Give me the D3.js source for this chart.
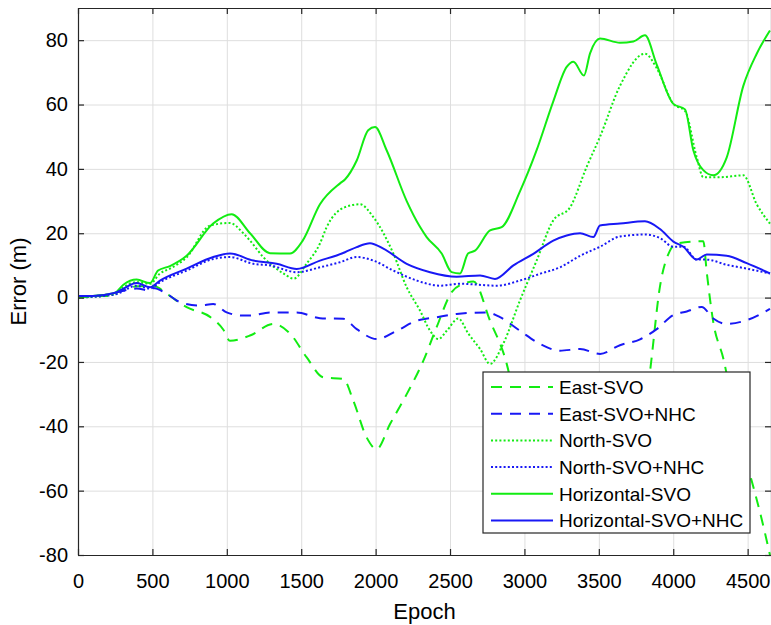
<!DOCTYPE html>
<meta charset="utf-8">
<script src="https://d3js.org/d3.v7.min.js"></script>
<style>
body { margin: 0; background: #fff; }
svg text { font-family: "Liberation Sans", Arial, sans-serif; fill: #000; }
</style>
<div id="chart"></div>
<script>
// data: [epoch, error (m)]
var eastSvo = [[0,0],[100,0.5],[200,0.5],[300,2.5],[400,3.5],[506,3.7],[596,1.2],[730,-3],[887,-6],[977,-10],[1021,-13.4],[1156,-11.8],[1313,-8.2],[1425,-11.2],[1537,-18.6],[1649,-24.8],[1783,-25.3],[1850,-32],[1940,-43.5],[2007,-47.1],[2097,-39.3],[2209,-30],[2321,-19.6],[2410,-9.2],[2511,1.7],[2590,4.3],[2657,5],[2769,-7.2],[2881,-20.6],[2950,-35],[3100,-58],[3300,-70],[3550,-70],[3700,-62],[3780,-45],[3844,-23],[3911,3.5],[3978,14.6],[4023,16.8],[4202,17.5],[4225,8],[4269,-7.6],[4337,-19],[4420,-38],[4516,-55],[4590,-68],[4650,-80]];
var eastNhc = [[0,0],[200,1],[394,2.8],[484,2.2],[506,3],[596,1.2],[685,-1.4],[820,-2.5],[909,-2],[999,-4.6],[1111,-5.6],[1156,-5.6],[1290,-4.6],[1470,-4.6],[1626,-6.4],[1783,-6.6],[1873,-9.8],[2007,-12.9],[2142,-10.3],[2276,-7.2],[2410,-6.1],[2545,-5.1],[2746,-4.6],[2836,-6.1],[2970,-10.3],[3105,-14.4],[3239,-16.5],[3374,-16],[3508,-17.5],[3642,-14.8],[3777,-13],[3889,-9.8],[4001,-5.4],[4091,-4.3],[4191,-2.9],[4269,-6.5],[4359,-8.2],[4494,-7],[4650,-3.5]];
var northSvo = [[0,0],[250,1],[305,3.2],[394,4.8],[484,4.3],[551,7.5],[618,9],[730,12.5],[887,22.4],[1021,23.2],[1111,20],[1156,17.7],[1245,12.6],[1380,7.5],[1450,5.9],[1537,10.6],[1626,16.8],[1671,21.9],[1794,28.1],[1895,29],[1985,25],[2119,13.7],[2209,3.2],[2298,-4],[2366,-10.3],[2422,-12.9],[2478,-10.3],[2556,-6.5],[2623,-11.2],[2702,-16],[2769,-20.6],[2858,-14.3],[2970,-0.9],[3082,11.5],[3194,24],[3306,28],[3418,40.6],[3508,50],[3642,65.8],[3810,75.8],[3889,71.3],[4001,60.2],[4079,58],[4158,43.6],[4202,37.4],[4315,37.4],[4471,38],[4561,29],[4650,23]];
var northNhc = [[0,0],[250,1],[394,3.7],[484,2.8],[551,4.8],[730,8.4],[909,12],[1021,12.6],[1178,10.5],[1290,10],[1470,7.9],[1626,9.4],[1761,11],[1873,12.6],[1985,11.5],[2119,8.4],[2276,5.3],[2433,3.7],[2567,4.3],[2814,3.7],[2970,5.3],[3105,7.4],[3239,9.4],[3374,13],[3508,15.8],[3642,19],[3810,19.6],[3911,18.5],[4001,15.8],[4068,15.8],[4158,11.8],[4225,11.8],[4359,10.2],[4494,9],[4650,7.5]];
var horizSvo = [[0,0],[100,0.5],[200,1],[250,1.5],[305,4],[394,5.6],[484,4.5],[538,8.4],[618,9.8],[730,13],[908,23],[1033,25.9],[1156,20],[1290,13.8],[1425,13.7],[1510,17.7],[1626,29],[1761,35.5],[1794,36.7],[1873,42.6],[1950,52],[1996,53],[2074,45.8],[2209,30],[2298,22],[2343,18.8],[2444,13.7],[2511,7.9],[2567,7.5],[2621,13.7],[2668,14.6],[2769,20.9],[2847,21.9],[2970,33],[3082,45.8],[3194,61],[3284,71.7],[3329,73.3],[3400,69],[3441,75.9],[3508,80.5],[3642,79.2],[3732,79.6],[3810,81.5],[3889,72.4],[4001,60.2],[4079,58.5],[4135,45.8],[4202,39.6],[4269,38],[4359,43.5],[4471,65.8],[4561,75.8],[4650,83]];
var horizNhc = [[0,0.5],[100,0.5],[250,1.5],[305,2.8],[394,4.5],[484,3.2],[551,5.3],[730,9],[909,12.6],[1021,13.7],[1178,11.5],[1335,10.5],[1470,8.9],[1626,11.5],[1738,13.1],[1794,14.1],[1873,15.7],[1962,16.9],[2052,15.2],[2209,10.5],[2366,7.9],[2545,6.5],[2702,6.9],[2802,5.8],[2926,10],[3060,13.6],[3194,17.7],[3284,19.3],[3374,20],[3463,18.8],[3508,22.4],[3642,23],[3810,23.7],[3911,21.3],[4001,17.4],[4068,15.8],[4158,11.8],[4225,13.4],[4359,13],[4494,10.7],[4650,7.5]];

var seriesNames = ["East-SVO", "East-SVO+NHC", "North-SVO", "North-SVO+NHC", "Horizontal-SVO", "Horizontal-SVO+NHC"];
var seriesData = [eastSvo, eastNhc, northSvo, northNhc, horizSvo, horizNhc];
var xTicks = [0, 500, 1000, 1500, 2000, 2500, 3000, 3500, 4000, 4500];
var yTicks = [-80, -60, -40, -20, 0, 20, 40, 60, 80];

// styles per series
var green = "#12ec12", blue = "#1818f5";
var colors = [green, blue, green, blue, green, blue];
var dashes = ["11,8", "11,8", "2,2.2", "2,2.2", null, null];

var margin = {top: 8, right: 0, bottom: 70, left: 78},
    width = 693,
    height = 547;

var svg = d3.select("#chart")
  .append("svg")
  .attr("width", 771)
  .attr("height", 625)
  .append("g")
  .attr("transform", "translate(" + margin.left + "," + margin.top + ")");

var x = d3.scaleLinear().domain([0, 4657]).range([0, width]);
var y = d3.scaleLinear().domain([-80, 90]).range([height, 0]);

// plain hyphen for negatives, like the original
var fmt = function(d) { return String(d); };

// grid
svg.append("g")
  .attr("transform", "translate(0," + height + ")")
  .call(d3.axisBottom(x).tickValues(xTicks).tickSize(-height).tickFormat(""))
  .call(function(g) {
    g.select(".domain").remove();
    g.selectAll("line").attr("stroke", "#dedede").attr("stroke-width", 1);
  });
svg.append("g")
  .call(d3.axisLeft(y).tickValues(yTicks).tickSize(-width).tickFormat(""))
  .call(function(g) {
    g.select(".domain").remove();
    g.selectAll("line").attr("stroke", "#dedede").attr("stroke-width", 1);
  });

// lines
svg.append("clipPath").attr("id", "plotclip")
  .append("rect").attr("width", width).attr("height", height);

var line = d3.line()
  .x(function(d) { return x(d[0]); })
  .y(function(d) { return y(d[1]); })
  .curve(d3.curveMonotoneX);

seriesData.forEach(function(data, i) {
  svg.append("path")
    .datum(data)
    .attr("clip-path", "url(#plotclip)")
    .attr("fill", "none")
    .attr("stroke", colors[i])
    .attr("stroke-width", 2)
    .attr("stroke-dasharray", dashes[i])
    .attr("d", line);
});

// axes (ticks point inward, box on)
function styleAxis(g) {
  g.select(".domain").attr("stroke", "#262626").attr("stroke-width", 1.2);
  g.selectAll(".tick line").attr("stroke", "#262626").attr("stroke-width", 1.2);
  g.selectAll("text").style("font-size", "20px").attr("fill", "#000");
}

svg.append("g")
  .attr("transform", "translate(0," + height + ")")
  .call(d3.axisBottom(x).tickValues(xTicks).tickSizeInner(-6).tickSizeOuter(0).tickPadding(19).tickFormat(fmt))
  .call(styleAxis);
svg.append("g")
  .call(d3.axisLeft(y).tickValues(yTicks).tickSizeInner(-6).tickSizeOuter(0).tickPadding(10).tickFormat(fmt))
  .call(styleAxis);
svg.append("g")
  .call(d3.axisTop(x).tickValues(xTicks).tickSizeInner(-6).tickSizeOuter(0).tickFormat(""))
  .call(styleAxis);
svg.append("g")
  .attr("transform", "translate(" + width + ",0)")
  .call(d3.axisRight(y).tickValues(yTicks).tickSizeInner(-6).tickSizeOuter(0).tickFormat(""))
  .call(styleAxis);

// axis labels
svg.append("text")
  .attr("x", width / 2)
  .attr("y", 611)
  .attr("text-anchor", "middle")
  .style("font-size", "22px")
  .text("Epoch");

svg.append("text")
  .attr("transform", "rotate(-90)")
  .attr("x", -(y(5)))
  .attr("y", -52)
  .attr("text-anchor", "middle")
  .style("font-size", "22px")
  .text("Error (m)");

// legend
var legend = svg.append("g")
  .attr("transform", "translate(" + (483 - margin.left) + "," + (372 - margin.top) + ")");

legend.append("rect")
  .attr("width", 267)
  .attr("height", 161)
  .attr("fill", "#fff")
  .attr("stroke", "#262626")
  .attr("stroke-width", 1.2);

seriesNames.forEach(function(name, i) {
  var row = legend.append("g").attr("transform", "translate(0," + (15 + i * 26.7) + ")");
  row.append("line")
    .attr("x1", 8).attr("x2", 70)
    .attr("stroke", colors[i])
    .attr("stroke-width", 2)
    .attr("stroke-dasharray", dashes[i]);
  row.append("text")
    .attr("x", 76)
    .attr("dy", "0.36em")
    .style("font-size", "19px")
    .text(name);
});
</script>
